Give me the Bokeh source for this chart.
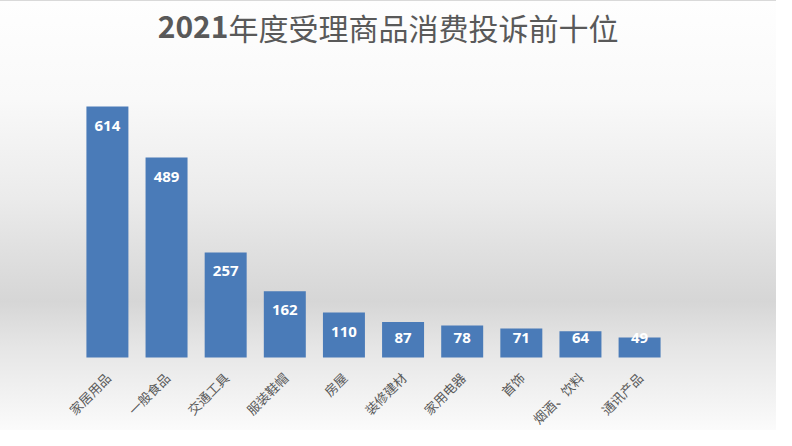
from bokeh.plotting import figure
from bokeh.models import ColumnDataSource, FactorRange, Range1d
from bokeh.core.properties import value
from bokeh.embed import file_html
from bokeh.resources import INLINE
import math

# ---- data ----
categories = ["家居用品", "一般食品", "交通工具", "服装鞋帽", "房屋",
              "装修建材", "家用电器", "首饰", "烟酒、饮料", "通讯产品"]
counts = [614, 489, 257, 162, 110, 87, 78, 71, 64, 49]
title_year = "2021"
title_rest = "年度受理商品消费投诉前十位"

# ---- layout constants ----
BASE = 356           # baseline pixel row
PX = (BASE - 105) / 614   # pixels per unit on y
H = 430
Y0 = -(H - BASE) / PX
Y1 = BASE / PX
STEP = 59.1
LEFT = 107 - 1.25 * STEP

label_y = [max(v * PX - 19, 20) / PX for v in counts]
label_txt = [str(v) for v in counts]

src = ColumnDataSource(dict(cat=categories, v=counts, ly=label_y, lt=label_txt,
                            zero=[0] * len(counts)))

p = figure(width=776, height=H,
           x_range=FactorRange(factors=categories, range_padding=0.75,
                               range_padding_units="absolute"),
           y_range=Range1d(Y0, Y1),
           output_backend="svg", toolbar_location=None,
           x_axis_location=None, y_axis_location=None,
           min_border_left=round(LEFT), min_border_right=776 - round(LEFT + 11.5 * STEP),
           min_border_top=0, min_border_bottom=0)
p.grid.visible = False
p.outline_line_color = None
p.background_fill_color = None
p.border_fill_color = None
p.styles = {"background": "linear-gradient(to bottom, #fefefe 0%, #f9f9f9 23%, #ebebeb 46%, #e0e0e0 58%, #d6d6d6 70%, #e6e6e6 81%, #f3f3f3 93%, #fbfbfb 100%)",
            "border-top": "1px solid #d9d9d9"}

# bars
p.vbar(x="cat", top="v", bottom=0, width=0.71, source=src,
       fill_color="#4a7bb8", line_color=None)

# value labels
p.text(x="cat", y="ly", text="lt", source=src, text_align="center",
       text_baseline="middle", text_color="white",
       text_font=value("Open Sans"), text_font_style="bold",
       text_font_size="15px")

# category labels
p.text(x="cat", y="zero", text="cat", source=src, angle=math.pi / 4,
       text_align="right", text_baseline="top", x_offset=-6, y_offset=11,
       text_color="#595959", text_font=value("Noto Sans CJK SC"),
       text_font_size="13px")

# title
ty = (BASE - 25) / PX
tx = -0.75 + (228 - LEFT) / STEP
p.text(x=[tx], y=[ty], text=[title_year], text_align="right",
       text_baseline="middle", text_color="#595959",
       text_font=value("Noto Sans CJK SC"), text_font_style="bold",
       text_font_size="30px")
p.text(x=[tx], y=[ty], text=[title_rest], text_align="left",
       text_baseline="middle", text_color="#595959",
       text_font=value("Noto Sans CJK SC"), text_font_size="30px")

open("out.html", "w").write(file_html(p, INLINE))
